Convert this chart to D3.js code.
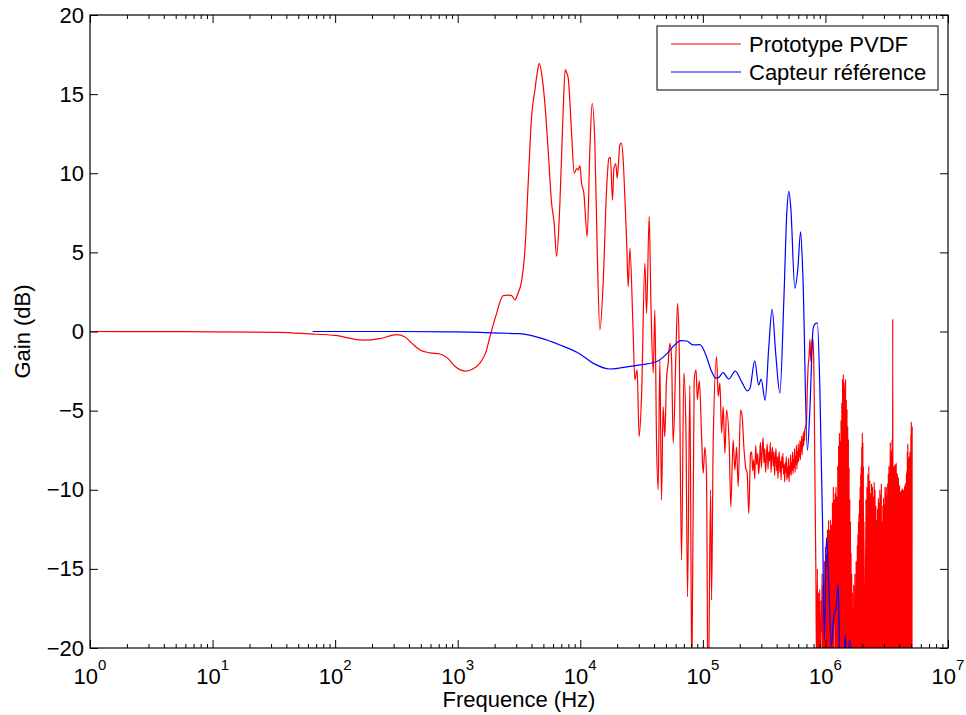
<!DOCTYPE html>
<html><head><meta charset="utf-8">
<script src="https://cdn.jsdelivr.net/npm/d3@7/dist/d3.min.js"></script>
<style>
html,body{margin:0;padding:0;background:#fff;}
text{font-family:"Liberation Sans",Arial,Helvetica,sans-serif;fill:#000;}
</style></head>
<body>
<svg id="chart" width="966" height="715"></svg>
<script>
// ---------------- DATA ----------------
const seriesNames = ["Prototype PVDF", "Capteur référence"];
const seriesColors = ["#ff0000", "#0000ff"];
const xDecades = [1, 10, 100, 1000, 1e4, 1e5, 1e6, 1e7];
const xExponents = ["0", "1", "2", "3", "4", "5", "6", "7"];
const yTicks = [-20, -15, -10, -5, 0, 5, 10, 15, 20];
const xLabel = "Frequence (Hz)";
const yLabel = "Gain (dB)";

// [frequency Hz, gain dB]
const prototypePVDF = [
[1,0],[3.1,-0.01],[10,-0.02],[35,-0.05],[62,-0.15],[100,-0.25],[169,-0.55],[232,-0.45],[318,-0.2],[371,-0.35],[423,-0.75],[492,-1.17],[593,-1.35],[716,-1.42],[832,-1.7],[949,-2.2],[1145,-2.5],[1306,-2.4],[1517,-2.0],[1698,-1.3],[1832,-0.33],[2050,1.0],[2350,2.27],[2567,2.3],[2752,2.27],[2929,2.0],[3098,2.4],[3322,3.2],[3532,5.1],[3757,9.36],[4005,13.57],[4262,15.26],[4470,16.4],[4624,16.95],[4836,16.3],[5143,14.4],[5471,11.45],[5834,8.1],[6124,6.84],[6409,4.73],[6818,8.1],[7254,14.0],[7535,16.55],[7780,16.3],[7976,16.0],[8497,12.5],[8923,10.0],[9338,10.3],[9572,10.2],[9932,10.46],[10250,9.36],[10700,8.73],[11380,6.0],[11970,11.47],[12500,14.42],[13150,11.9],[13740,5.15],[14450,0.1],[15370,3.05],[16380,8.94],[17110,10.94],[17600,11.0],[18320,8.3],[18800,10.3],[19490,10.6],[20000,9.68],[21040,11.8],[21640,11.9],[22390,10.84],[23100,8.5],[23870,5.78],[24600,2.83],[25400,5.26],[26860,0.5],[27890,-3.06],[29100,-2.43],[30200,-6.65],[31600,-4.12],[33650,4.3],[34740,1.15],[36480,7.26],[37660,1.99],[39340,-2.64],[40570,1.36],[41900,-7.07],[43180,-10.0],[44570,-1.8],[46000,-10.65],[47400,-4.75],[48900,-6.65],[50500,-3.06],[52100,-2.0],[53800,-0.75],[55500,-1.6],[57300,-7.07],[60300,-1.38],[62200,1.78],[64100,-0.96],[67000,-14.44],[70000,-2.6],[72700,-5.98],[75000,-16.76],[78300,-3.4],[81300,-22],[84900,-3.06],[88000,-2.43],[90200,-4.3],[93600,-3.1],[97800,-6.8],[100500,-8.96],[104000,-7.3],[107000,-8.96],[110400,-24],[115600,-10.0],[117800,-16.97],[121400,-7.07],[129400,-1.6],[133400,-4.1],[137700,-3.25],[142200,-6.4],[146600,-4.75],[151300,-7.7],[156000,-4.96],[164000,-7.07],[169000,-11.07],[176600,-6.85],[182400,-8.75],[188400,-7.3],[194200,-9.8],[203000,-4.96],[209400,-5.4],[216000,-7.28],[223000,-8.55],[230000,-8.96],[237000,-11.5],[245000,-7.7],
[2.50e5,-7.6],[2.55e5,-8.8],[2.60e5,-8.1],[2.65e5,-9.3],[2.70e5,-7.2],[2.75e5,-8.4],[2.80e5,-7.7],[2.85e5,-9.0],[2.90e5,-8.2],[2.95e5,-7.0],[3.00e5,-8.6],[3.05e5,-7.5],[3.10e5,-6.7],[3.15e5,-8.3],[3.20e5,-7.4],[3.25e5,-8.9],[3.30e5,-7.9],[3.35e5,-7.1],[3.40e5,-8.7],[3.45e5,-7.6],[3.50e5,-8.2],[3.55e5,-7.0],[3.60e5,-8.9],[3.65e5,-7.8],[3.70e5,-7.3],[3.75e5,-8.5],[3.80e5,-7.6],[3.85e5,-9.1],[3.90e5,-8.0],[3.95e5,-7.4],[4.00e5,-8.8],[4.05e5,-7.9],[4.10e5,-9.3],[4.15e5,-8.1],[4.20e5,-7.6],[4.25e5,-8.9],[4.30e5,-8.2],[4.35e5,-9.4],[4.40e5,-7.9],[4.45e5,-8.6],[4.50e5,-7.7],[4.55e5,-9.0],[4.60e5,-8.4],[4.65e5,-9.5],[4.70e5,-8.3],[4.75e5,-8.9],[4.80e5,-7.9],[4.85e5,-9.4],[4.90e5,-8.6],[4.95e5,-9.2],[5.00e5,-8.0],[5.05e5,-9.5],[5.10e5,-8.5],[5.15e5,-9.0],[5.20e5,-7.8],[5.25e5,-9.1],[5.30e5,-8.3],[5.35e5,-8.8],[5.40e5,-7.6],[5.45e5,-9.0],[5.50e5,-8.1],[5.55e5,-8.6],[5.60e5,-7.4],[5.65e5,-8.9],[5.70e5,-7.9],[5.75e5,-8.4],[5.80e5,-7.2],[5.85e5,-8.7],[5.90e5,-7.6],[5.95e5,-8.3],[6.00e5,-7.1],[6.05e5,-8.2],[6.10e5,-7.5],[6.15e5,-7.9],[6.20e5,-6.9],[6.25e5,-8.1],[6.30e5,-7.0],[6.35e5,-7.6],[6.40e5,-6.6],[6.45e5,-7.8],[6.50e5,-6.8],[6.55e5,-7.3],[6.60e5,-6.4],[6.65e5,-7.2],[6.70e5,-6.3],[6.75e5,-6.9],[6.80e5,-6.2],
[7.0e5,-5.8],[7.12e5,-3.5],[7.23e5,-2.2],[7.35e5,-1.6],[7.48e5,-0.5],[7.6e5,-1.9],[7.7e5,-1.3],[7.82e5,-0.4],[7.94e5,-0.74],[8.1e5,-4.0],[8.19e5,-8.5],[8.35e5,-14.9],[8.48e5,-22],
[0.86e6,-15],[0.87e6,-24],[0.88e6,-16.5],[0.89e6,-21],[0.90e6,-16.3],[0.91e6,-28],[0.92e6,-17],[0.93e6,-19],[0.94e6,-15.3],[0.95e6,-26],[0.96e6,-16],[0.97e6,-22],[0.98e6,-14.5],[0.99e6,-30],[1.00e6,-13.6],[1.01e6,-23],[1.02e6,-14],[1.03e6,-20.5],[1.04e6,-12.5],[1.05e6,-27],[1.06e6,-11.9],[1.07e6,-25],[1.08e6,-12.5],[1.09e6,-22],[1.10e6,-11.9],[1.11e6,-29],[1.12e6,-12.2],[1.13e6,-21],[1.14e6,-10.8],[1.15e6,-24],[1.16e6,-9.8],[1.17e6,-26],[1.18e6,-10.6],[1.19e6,-18.5],[1.20e6,-10.2],[1.21e6,-23],[1.22e6,-9.8],[1.23e6,-27],[1.24e6,-10.4],[1.25e6,-22],[1.26e6,-8.5],[1.27e6,-25],[1.28e6,-7.2],[1.29e6,-30],[1.30e6,-6.4],[1.31e6,-21],[1.32e6,-6.9],[1.33e6,-24],[1.34e6,-5.6],[1.35e6,-28],[1.36e6,-4.5],[1.37e6,-22],[1.38e6,-3.0],[1.39e6,-26],[1.40e6,-2.7],[1.41e6,-23],[1.42e6,-3.2],[1.43e6,-20.5],[1.44e6,-3.6],[1.45e6,-25],[1.46e6,-3.0],[1.47e6,-29],[1.48e6,-4.3],[1.49e6,-22],[1.50e6,-4.9],[1.51e6,-24],[1.52e6,-6.0],[1.53e6,-27],[1.54e6,-6.8],[1.55e6,-21],[1.56e6,-8.6],[1.57e6,-26],[1.58e6,-10.6],[1.59e6,-23],[1.60e6,-12],[1.61e6,-19],[1.62e6,-14],[1.63e6,-28],[1.64e6,-15.3],[1.65e6,-22],[1.66e6,-16.5],[1.67e6,-25],[1.68e6,-17.5],[1.69e6,-24],[1.70e6,-16],[1.71e6,-30],[1.72e6,-17.8],[1.73e6,-21],[1.74e6,-15.3],[1.75e6,-27],[1.76e6,-16.2],[1.77e6,-23],[1.78e6,-14.5],[1.79e6,-26],[1.80e6,-15],[1.81e6,-18],[1.82e6,-13.5],[1.83e6,-22],[1.84e6,-12.8],[1.85e6,-28],[1.86e6,-12.0],[1.87e6,-24],[1.88e6,-11.5],[1.89e6,-21],[1.90e6,-10.6],[1.91e6,-26],[1.92e6,-9.8],[1.93e6,-25],[1.94e6,-9.0],[1.95e6,-23],[1.96e6,-8.5],[1.97e6,-29],[1.98e6,-7.3],[1.99e6,-22],[2.00e6,-6.4],[2.01e6,-24],[2.02e6,-7.0],[2.03e6,-27],[2.04e6,-8.5],[2.05e6,-21],[2.06e6,-12],[2.10e6,-24],
[2.14e6,-10.6],[2.16e6,-26],[2.18e6,-9.8],[2.20e6,-23],[2.22e6,-9.0],[2.24e6,-30],[2.26e6,-8.5],[2.28e6,-22],[2.30e6,-9.4],[2.32e6,-27],[2.34e6,-10.2],[2.36e6,-25],[2.38e6,-9.6],[2.40e6,-21],[2.42e6,-9.8],[2.44e6,-29],[2.46e6,-10.4],[2.48e6,-24],[2.50e6,-9.5],[2.52e6,-28],[2.54e6,-10.0],[2.56e6,-22],[2.58e6,-11.0],[2.60e6,-26],[2.62e6,-11.9],[2.64e6,-31],[2.66e6,-11.2],[2.68e6,-23],[2.70e6,-10.5],[2.72e6,-25],[2.74e6,-10.8],[2.76e6,-27],[2.78e6,-10.0],[2.80e6,-21],[2.82e6,-10.3],[2.84e6,-24],[2.86e6,-9.6],[2.88e6,-30],[2.90e6,-12.0],[2.92e6,-22],[2.94e6,-11.0],[2.96e6,-26],[2.98e6,-10.5],[3.00e6,-28],[3.02e6,-10.9],[3.04e6,-23],[3.06e6,-9.8],[3.08e6,-25],[3.10e6,-10.2],[3.12e6,-21],[3.14e6,-9.8],[3.16e6,-29],[3.18e6,-10.4],[3.20e6,-24],[3.22e6,-9.6],[3.24e6,-27],[3.26e6,-9.0],[3.28e6,-22],[3.30e6,-8.5],[3.32e6,-26],[3.34e6,-8.9],[3.36e6,-30],[3.38e6,-7.0],[3.40e6,-23],[3.42e6,-7.8],[3.44e6,-25],[3.46e6,-7.5],[3.48e6,-28],[3.50e6,-6.8],[3.52e6,-21],[3.54e6,0.8],[3.56e6,-24],[3.58e6,-8.6],[3.60e6,-27],[3.62e6,-8.5],[3.64e6,-22],[3.66e6,-9.2],[3.68e6,-29],[3.70e6,-8.4],[3.72e6,-26],[3.74e6,-8.8],[3.76e6,-23],[3.78e6,-8.3],[3.80e6,-25],[3.82e6,-8.9],[3.84e6,-30],[3.86e6,-9.0],[3.88e6,-21],[3.90e6,-9.6],[3.92e6,-24],[3.94e6,-9.2],[3.96e6,-28],[3.98e6,-10.0],[4.00e6,-22],[4.02e6,-9.7],[4.04e6,-26],[4.06e6,-10.4],[4.08e6,-27],[4.10e6,-10.1],[4.12e6,-23],[4.14e6,-10.6],[4.16e6,-25],[4.18e6,-10.0],[4.20e6,-29],[4.22e6,-10.4],[4.24e6,-21],[4.26e6,-9.9],[4.28e6,-24],[4.30e6,-10.3],[4.32e6,-28],[4.34e6,-10.0],[4.36e6,-22],[4.38e6,-10.2],[4.40e6,-26],[4.42e6,-9.8],[4.44e6,-30],[4.46e6,-9.7],[4.48e6,-23],[4.50e6,-9.6],[4.52e6,-25],[4.54e6,-9.9],[4.56e6,-27],[4.58e6,-9.0],[4.60e6,-21],[4.62e6,-8.8],[4.64e6,-24],[4.66e6,-7.6],[4.68e6,-29],[4.70e6,-7.1],[4.72e6,-22],[4.74e6,-8.0],[4.76e6,-26],[4.78e6,-8.3],[4.80e6,-28],[4.82e6,-7.9],[4.84e6,-23],[4.86e6,-8.2],[4.88e6,-25],[4.90e6,-7.6],[4.92e6,-27],[4.94e6,-8.1],[4.96e6,-21],[4.98e6,-6.5],[5.00e6,-24],[5.02e6,-5.7],[5.04e6,-30],[5.06e6,-7.0],[5.08e6,-22],[5.10e6,-6.0]
];

const capteurReference = [
[65.5,0.0],[132,0.0],[338,0.0],[864,-0.02],[1517,-0.05],[2208,-0.1],[3215,-0.14],[4680,-0.4],[6820,-0.85],[9930,-1.42],[12700,-2.0],[17400,-2.37],[25400,-2.2],[34900,-2.05],[42200,-1.9],[50900,-1.4],[58000,-0.9],[66200,-0.58],[74100,-0.6],[82900,-0.85],[94600,-0.83],[107000,-1.58],[116000,-2.4],[128000,-2.95],[135000,-2.9],[146000,-2.6],[163000,-3.0],[184000,-2.5],[207000,-3.17],[231000,-3.75],[242000,-3.6],[265000,-1.86],[285000,-3.38],[299000,-3.0],[322000,-4.35],[345000,-1.0],[367000,1.4],[394000,-1.5],[425000,-3.9],[458000,2.0],[484000,7.5],[503000,8.85],[522000,7.8],[563000,2.74],[596000,4.0],[627000,6.3],[655000,3.5],[712000,-7.5],[746000,-5.0],[794000,0.2],[828000,0.5],[860000,0.55],[900000,-3.5],[947000,-12],[980000,-19.5],[1020000,-13.0],[1070000,-16.5],[1120000,-19.9],[1170000,-18],[1220000,-17.5],[1270000,-16],[1310000,-21],[1400000,-22],[1450000,-19.2],[1500000,-21],[1580000,-19.5],[1650000,-22]
];

// ---------------- DRAW ----------------
const svg = d3.select("#chart");
const L = 90, R = 948, T = 15, B = 648;
const FS = 22;
const x = d3.scaleLog().domain([1, 1e7]).range([L, R]);
const y = d3.scaleLinear().domain([-20, 20]).range([B, T]);

svg.append("defs").append("clipPath").attr("id", "clip")
  .append("rect").attr("x", L).attr("y", T).attr("width", R - L).attr("height", B - T);

const line = d3.line().x(d => x(d[0])).y(d => y(d[1])).curve(d3.curveMonotoneX);
const plot = svg.append("g").attr("clip-path", "url(#clip)");
[prototypePVDF, capteurReference].forEach((s, i) => {
  plot.append("path").datum(s).attr("d", line)
    .attr("fill", "none").attr("stroke", seriesColors[i]).attr("stroke-width", 1.2)
    .attr("stroke-linejoin", "round");
});

// minor ticks
const minors = [];
for (let i = 0; i < xDecades.length - 1; i++) for (let m = 2; m <= 9; m++) minors.push(xDecades[i] * m);

function styleAxis(g) { g.select(".domain").remove(); g.selectAll("line").attr("stroke", "#000"); }
svg.append("g").attr("transform", `translate(0,${B})`).call(d3.axisBottom(x).tickValues(xDecades).tickSize(-8).tickFormat("")).call(styleAxis);
svg.append("g").attr("transform", `translate(0,${B})`).call(d3.axisBottom(x).tickValues(minors).tickSize(-4).tickFormat("")).call(styleAxis);
svg.append("g").attr("transform", `translate(0,${T})`).call(d3.axisTop(x).tickValues(xDecades).tickSize(-8).tickFormat("")).call(styleAxis);
svg.append("g").attr("transform", `translate(0,${T})`).call(d3.axisTop(x).tickValues(minors).tickSize(-4).tickFormat("")).call(styleAxis);
const yl = svg.append("g").attr("transform", `translate(${L},0)`).call(d3.axisLeft(y).tickValues(yTicks).tickSize(-8).tickPadding(6)).call(styleAxis);
yl.selectAll("text").attr("font-size", FS).attr("font-family", '"Liberation Sans",Arial,sans-serif').attr("fill", "#000");
svg.append("g").attr("transform", `translate(${R},0)`).call(d3.axisRight(y).tickValues(yTicks).tickSize(-8).tickFormat("")).call(styleAxis);

svg.append("rect").attr("x", L).attr("y", T).attr("width", R - L).attr("height", B - T)
  .attr("fill", "none").attr("stroke", "#000").attr("stroke-width", 1.2);

// x tick labels 10^n
xDecades.forEach((d, i) => {
  const t = svg.append("text").attr("x", x(d)).attr("y", 684).attr("text-anchor", "middle").attr("font-size", FS);
  t.append("tspan").text("10");
  t.append("tspan").attr("dy", -14).attr("font-size", 15).text(xExponents[i]);
});

svg.append("text").attr("x", (L + R) / 2).attr("y", 707).attr("text-anchor", "middle").attr("font-size", FS).text(xLabel);
svg.append("text").attr("transform", `translate(30,${(T + B) / 2}) rotate(-90)`).attr("text-anchor", "middle").attr("font-size", FS).text(yLabel);

// legend
const lg = svg.append("g");
lg.append("rect").attr("x", 657).attr("y", 26).attr("width", 281).attr("height", 64)
  .attr("fill", "#fff").attr("stroke", "#000").attr("stroke-width", 1);
seriesNames.forEach((n, i) => {
  const yy = 44 + i * 28;
  lg.append("line").attr("x1", 671).attr("x2", 741).attr("y1", yy).attr("y2", yy).attr("stroke", seriesColors[i]).attr("stroke-width", 1.2);
  lg.append("text").attr("x", 749).attr("y", yy + 8).attr("font-size", FS).text(n);
});
</script>
</body></html>
